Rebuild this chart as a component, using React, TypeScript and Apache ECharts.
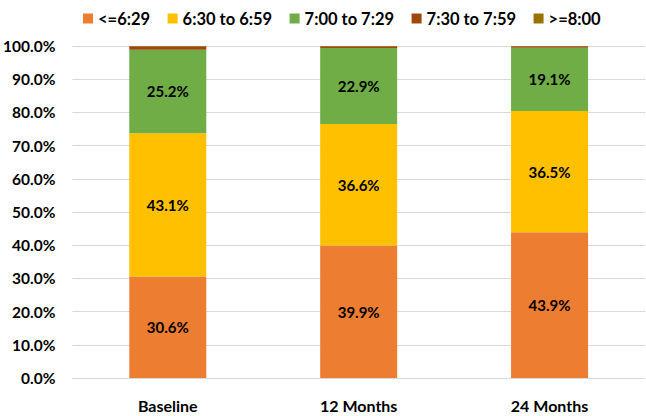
import React, { useEffect, useRef } from "react";
import * as echarts from "echarts";

const categories = ["Baseline", "12 Months", "24 Months"];
const seriesNames = ["<=6:29", "6:30 to 6:59", "7:00 to 7:29", "7:30 to 7:59", ">=8:00"];
const before629 = [30.6, 39.9, 43.9];
const from630 = [43.1, 36.6, 36.5];
const from700 = [25.2, 22.9, 19.1];
const from730 = [1.0, 0.5, 0.4];
const after800 = [0.1, 0.1, 0.1];
const colors = ["#ED7D31", "#FFC000", "#70AD47", "#9E480E", "#997300"];
const labelled = [true, true, true, false, false];

export default function App() {
  const ref = useRef<HTMLDivElement>(null);
  useEffect(() => {
    document.body.style.margin = "0";
    const chart = echarts.init(ref.current!, null, { renderer: "svg" });
    const values = [before629, from630, from700, from730, after800];
    const font = "Lato, 'Open Sans', sans-serif";
    chart.setOption({
      animation: false,
      textStyle: { fontFamily: font },
      legend: {
        top: 5,
        left: 78,
        itemWidth: 10,
        itemHeight: 10,
        itemGap: 17.5,
        icon: "rect",
        textStyle: { fontSize: 16.5, fontWeight: "bold", color: "#000", fontFamily: font },
        data: seriesNames,
      },
      grid: { left: 69, right: 1, top: 46, bottom: 38 },
      xAxis: {
        type: "category",
        data: categories,
        axisTick: { show: false },
        axisLine: { lineStyle: { color: "#d9d9d9", width: 1 } },
        axisLabel: { fontSize: 16, fontWeight: "bold", color: "#000", margin: 19, fontFamily: font },
      },
      yAxis: {
        type: "value",
        min: 0,
        max: 100,
        interval: 10,
        axisLabel: {
          fontSize: 15.5,
          fontWeight: "bold",
          color: "#000",
          margin: 17,
          fontFamily: font,
          formatter: (v: number) => v.toFixed(1) + "%",
        },
        splitLine: { lineStyle: { color: "#d9d9d9", width: 1 } },
        axisLine: { show: false },
        axisTick: { show: false },
      },
      series: seriesNames.map((name, i) => ({
        name,
        type: "bar",
        stack: "total",
        barWidth: 77,
        data: values[i],
        itemStyle: { color: colors[i] },
        label: {
          show: labelled[i],
          position: "inside",
          fontSize: 15,
          fontWeight: "bold",
          color: "#000",
          fontFamily: font,
          formatter: (p: any) => Number(p.value).toFixed(1) + "%",
        },
      })),
    });
    return () => chart.dispose();
  }, []);
  return <div ref={ref} style={{ width: 646, height: 416 }} />;
}
